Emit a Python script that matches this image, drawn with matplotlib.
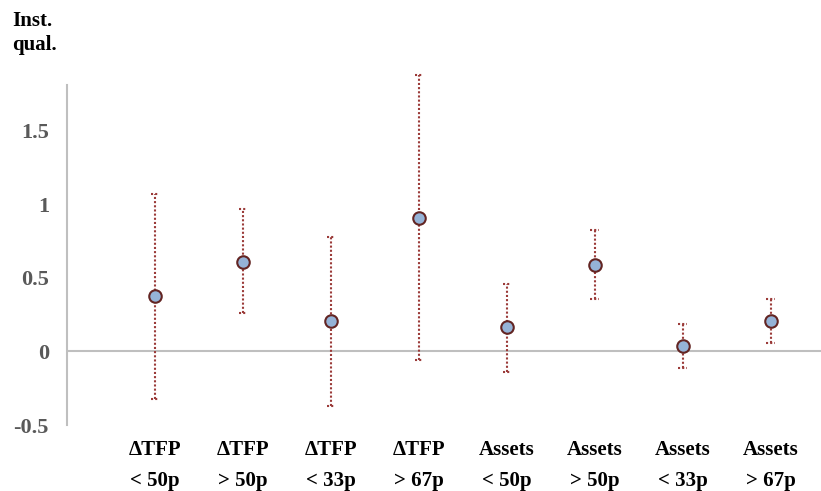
import numpy as np
import matplotlib
matplotlib.use("Agg")
import matplotlib.pyplot as plt

plt.rcParams['font.family'] = ['Liberation Serif', 'DejaVu Serif']
plt.rcParams['font.weight'] = 'bold'

# datos
grupos = ["\u0394TFP\n< 50p", "\u0394TFP\n> 50p", "\u0394TFP\n< 33p", "\u0394TFP\n> 67p",
          "Assets\n< 50p", "Assets\n> 50p", "Assets\n< 33p", "Assets\n> 67p"]
estimacion = [0.375, 0.61, 0.205, 0.905, 0.165, 0.59, 0.04, 0.21]
limite_sup = [1.07, 0.97, 0.78, 1.88, 0.46, 0.825, 0.19, 0.36]
limite_inf = [-0.32, 0.26, -0.37, -0.06, -0.14, 0.36, -0.115, 0.06]
yticks = [-0.5, 0, 0.5, 1, 1.5]
ytick_labels = ["-0.5", "0", "0.5", "1", "1.5"]

x = np.arange(1, len(grupos) + 1)
est = np.array(estimacion)
err = np.vstack([est - np.array(limite_inf), np.array(limite_sup) - est])

fig = plt.figure(figsize=(8.21, 4.91), dpi=100)
ax = fig.add_axes([0.0816, 0.1344, 0.9184, 0.6926])

gris = '#bfbfbf'
rojo = '#9b3b39'
punteado = (0, (1, 1))
ax.axhline(0, color=gris, lw=1.5, zorder=1)

eb = ax.errorbar(x, est, yerr=err, fmt='none', ecolor=rojo, elinewidth=1.5,
                 capsize=0, zorder=2)
for linea in eb[2]:
    linea.set_linestyle(punteado)
    linea.set_clip_on(False)

# topes punteados
ax.hlines(limite_sup, x - 0.05, x + 0.05, colors=rojo, lw=1.5,
          linestyles=[punteado], zorder=2, clip_on=False)
ax.hlines(limite_inf, x - 0.05, x + 0.05, colors=rojo, lw=1.5,
          linestyles=[punteado], zorder=2, clip_on=False)

ax.plot(x, est, 'o', ms=9, mfc='#95b3d7', mec='#632523', mew=1.5, zorder=3,
        clip_on=False)

ax.set_xlim(0, 8.57)
ax.set_ylim(-0.5, 1.813)

for lado in ['top', 'right', 'bottom']:
    ax.spines[lado].set_visible(False)
ax.spines['left'].set_color(gris)
ax.spines['left'].set_linewidth(1.5)

ax.set_yticks(yticks)
ax.set_yticklabels(ytick_labels, fontsize=16, color='#595959')
ax.set_xticks(x)
ax.set_xticklabels(grupos, fontsize=15, color='black', linespacing=1.7)
ax.tick_params(axis='y', length=0, pad=13)
ax.tick_params(axis='x', length=0, pad=11)

fig.text(0.015, 0.978, "Inst.\nqual.", fontsize=15, ha='left', va='top',
         linespacing=1.25)

fig.savefig('out.png', dpi=100)
